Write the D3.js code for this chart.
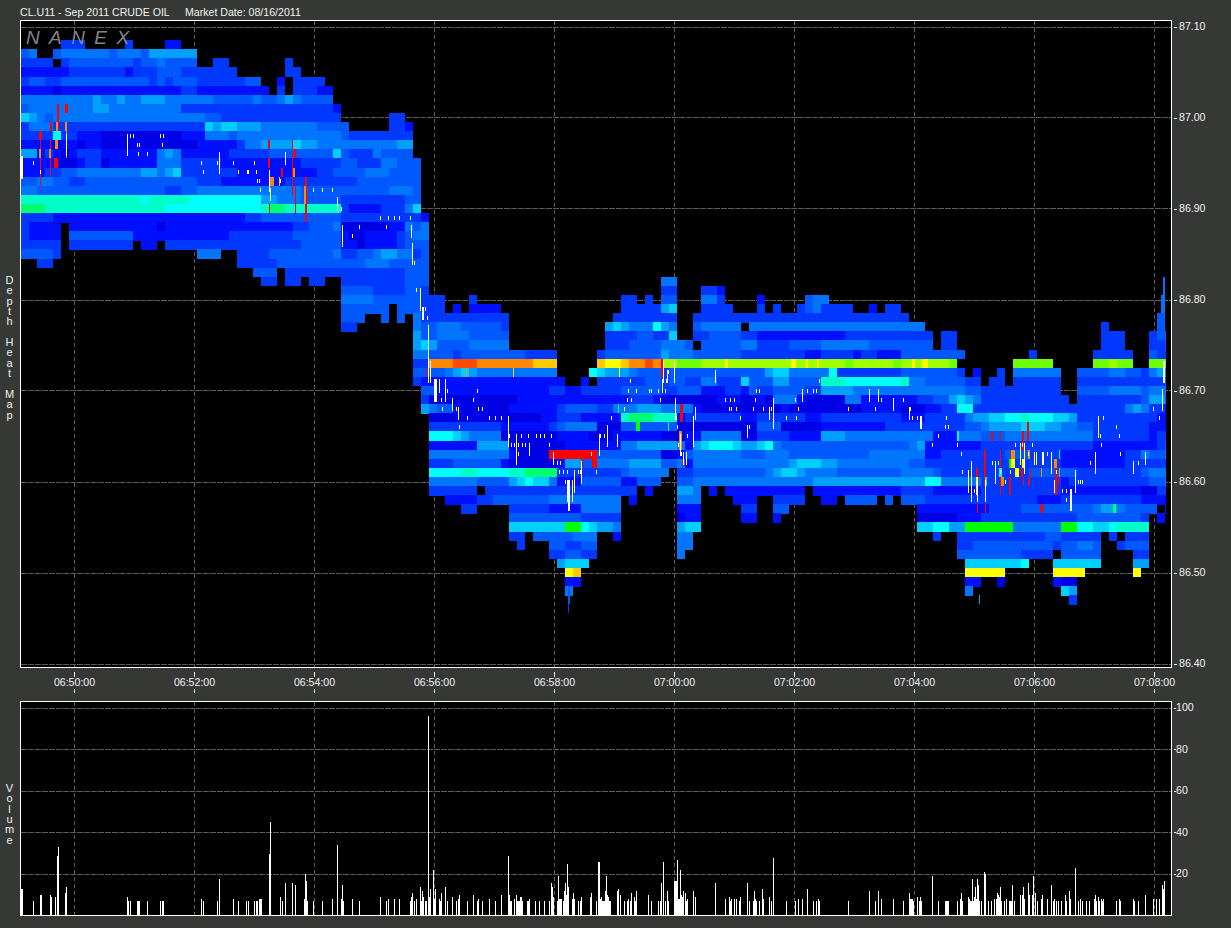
<!DOCTYPE html>
<html><head><meta charset="utf-8">
<style>html,body{margin:0;padding:0;background:#363835;overflow:hidden}svg{display:block}text{font-family:"Liberation Sans",Arial,sans-serif;font-size:10.6px;fill:#f2f2f2}</style>
<script src="https://cdn.jsdelivr.net/npm/d3@7/dist/d3.min.js"></script>
</head><body><svg id="c" width="1231" height="928"></svg>
<script>
// Time is in seconds after 06:48:46. Prices in dollars.
const titleLeft = "CL.U11 - Sep 2011 CRUDE OIL";
const titleRight = "Market Date: 08/16/2011";
const logoText = "NANEX";
const priceTicks = [87.1,87.0,86.9,86.8,86.7,86.6,86.5,86.4];
const timeTicks = [74,194,314,434,554,674,794,914,1034,1154];
const timeLabels = ["06:50:00","06:52:00","06:54:00","06:56:00","06:58:00","07:00:00","07:02:00","07:04:00","07:06:00","07:08:00"];
const volumeTicks = [20,40,60,80,100];
const topPrice = 87.08, priceStep = 0.01, firstBucket = 21, bucketSeconds = 8, lastSecond = 1166;
// Depth intensity per price level (top to bottom), 8 s buckets in groups of ten; "_" = ten empty buckets.
const depthGrid = [
".....333.. ...3....22",
"45..455555 5455546666 66........",
"3333.34444 4444344544 44..33.... ...3......",
"2222223333 3332333444 3333333... ...33.....",
"3443344444 4444443434 4433333344 ..2.3333..",
"2222122222 2222222222 3322222222 2.3.33322.",
"5555555556 5565566655 5555444445 445654444.",
"4555555556 6555555555 3333333333 3333333332",
"7654555555 5555555555 5554433333 3333333333 ......33..",
"3555333333 3333333333 3337677666 5555555444 4.....332.",
"3333833222 1111111111 2225554555 5555555555 433333333.",
"2222122122 1111111111 1122222355 6666766555 555555566.",
"6623212333 2222222565 2222223333 3444444447 433354444.",
"2222111233 1222222555 3333322222 2222233333 4433355444",
"2223344555 5555566567 3333333222 2222222334 4445554444",
"4455443344 4444444444 4433322222 2223333333 3344444444",
"5544444444 4444444433 4455555555 5555544444 4444445554",
"9999999999 9999989999 9888888888 6655544444 3333333344",
"aaa9999999 9999999988 8888888888 9aa9999999 3222233357",
"3333222222 2222222222 2222222233 4444444444 3333333333 2",
"32222.2222 2222222122 2222222222 2222334445 1111112254 5",
"32222.4444 4444222222 2222223333 3333444444 2112222345 5",
"33333.3333 3333.22.33 3333333333 3333344444 2212222344 4",
"44443..... _ ..555..333 3444444445 3344566553 4",
"..33...... _ .......333 3344444444 4445554444 4",
"_ _ .........4 44.3333333 3333333344 4",
"_ _ _ 33.33.33.. 3333333344 4 _ _ 55........",
"_ _ _ _ 4444333344 3 _ _ 33...332..",
"_ _ _ _ 5555444444 333...3... _ .....33.3. 44...553.. ..2.....45 5.........",
"_ _ _ _ 444444.444 333.2.2222 _ .....33333 67...3333. ..3.3..345 3333..2.33",
"_ _ _ _ 444..4.4.5 3333333333 3......... ....333333 33..333333 3333333333 3333333333 3.........",
"_ _ _ _ 33.......5 4455544444 3......... ...6765558 65..455555 .555555555 5555555555 555....... _ .....3.... ..3.",
"_ _ _ _ .........6 4455554444 4......... ...3333443 37..334444 3322222222 2223333333 3333.33... _ .....333.. .334",
"_ _ _ _ .........6 7644445555 5......... ...3334444 5554.44444 5533334444 5555554444 4444.33... _ .....333.. .334",
"_ _ _ _ .........5 5444344444 4443333... ..34444444 6555444444 3333333322 3333233222 44444444.. ......3... ....33333. .433",
"_ _ _ _ .........3 3ggghhhggg ggggfff... ..feefgghg ddcccddddd dddddddddd dddcdddddc ddddddc... ....ccccc. ....ccdcc. .ccc",
"_ _ _ _ .........4 4445676555 5555555... .876665444 3444444444 4446775555 5833333333 44444443.2 ..3.555555 ..44445544 3566",
"_ _ _ _ .........3 2222222222 22222222.. 2.33333344 3443355333 7444664444 9998888888 9554444433 .33.333333 ..33333333 3334",
"_ _ _ _ _ 4422222222 2222223322 3333344444 3344422233 2433444433 6666555555 5555555544 3333333333 ..44445555 4555",
"_ _ _ _ _ 3111111111 1122222222 2222223332 1111111222 1121555211 1115522222 2233446765 3333333333 3.33333333 4664",
"_ _ _ _ _ 6544211111 1222222344 4433555666 5555211111 1111121111 1111122222 1112233883 3333333333 3333333356 5332",
"_ _ _ _ _ .111111111 1111122333 222229aaa9 9923333333 2233333322 3333333333 2223333356 6778898887 7633333333 3322",
"_ _ _ _ _ .333333333 2222223455 5511144444 4411111111 1144411111 2222222233 3333333344 5666677766 5544333333 3222",
"_ _ _ _ _ .888765555 1111111222 2111222222 1112255555 1133332222 6665555555 5555222555 4445555555 5555333333 3233",
"_ _ _ _ _ .222222666 6111111122 2222255666 6652678887 6678544444 4444444444 4562222222 3333333333 3333222222 2234",
"_ _ _ _ _ .555555555 521111iiii ii44444444 1124555555 4445554444 4444445555 5552233333 3334443333 2222222233 5445",
"_ _ _ _ _ .333444444 2111111266 4455556666 4452555555 5555556777 6655555555 5443333333 3333333333 2222222233 3333",
"_ _ _ _ _ .888899888 899aaaa333 3333345555 5.33444444 4445677655 5544444444 5555433333 3333334444 4433333333 4555",
"_ _ _ _ _ .555555444 4678775222 4444422444 ..44555555 5555555556 6666666666 6668855555 3333333333 2333333333 3445",
"_ _ _ _ _ .333333.33 3333333333 3333333.2. ..665.2.22 22222222.2 2222222222 3333222222 3333333333 2222222222 1133",
"_ _ _ _ _ ...2222334 4444445555 55555.2... ..555....2 22..3333.. 22.4444.4. 4443333333 3333333222 3333333333 2222",
"_ _ _ _ _ .....33... .333332222 55555..... ..222..... 33..44.... _ ..22222222 2333344444 4444566544 44.2",
"_ _ _ _ _ _ .444444444 33333..... ..122..... 22..2..... _ ..11111222 3333333333 3344444444 3.2.",
"_ _ _ _ _ _ .7777777bb 87665..... ..677..... _ _ ..778866bb bbbb555555 bb88778999 9...",
"_ _ _ _ _ _ .33.444445 55..2..... ..55...... _ _ ....3..333 3333333344 33333.3.33 3...",
"_ _ _ _ _ _ ..3...4433 44........ ..55...... _ _ .......334 4444444443 44554..344 4...",
"_ _ _ _ _ _ ......3344 33........ ..5....... _ _ .......444 444443333. 44444....3 3...",
"_ _ _ _ _ _ .......677 7......... _ _ _ ........77 777778...7 77777....6 6...",
"_ _ _ _ _ _ ........ef _ _ _ _ ........ee eee......e eee......e",
"_ _ _ _ _ _ ........22 _ _ _ _ ........22 ..1......2 11........",
"_ _ _ _ _ _ ........5. _ _ _ _ ........5. _ 76........",
"_ _ _ _ _ _ _ _ _ _ _ _ _ .3........"
];
// Intensity level -> colour stops
const levelStops = [1,2,3,4,5,6,7,8,9,10,11,12,13,14,15,16,17,18];
const levelColors = ["#0000e4","#0010ff","#0038ff","#0058ff","#0076ff","#00a0ff","#00d0ff","#00ffff","#00ffc8","#00ff70","#00ff00","#70ff00","#a0ff00","#ffff00","#ffc800","#ff8800","#ff4800","#ff0000"];
// Narrow hot streaks: [second, high price, low price, level, width in seconds]
const streaks = [
[58,87.01,86.99,18,2],[66,87.01,87.01,18,3],[51,86.99,86.99,18,2],[40,86.98,86.98,18,3],[40,86.97,86.93,18,1],[50,86.97,86.94,18,1],
[56,86.95,86.95,18,4],[66,86.98,86.96,16,1],[40,86.96,86.96,16,2],[50,86.96,86.96,16,2],[57,86.99,86.99,16,2],[56,86.97,86.97,16,3],[66,86.99,86.99,16,2],
[269,86.97,86.97,18,2],[269,86.95,86.95,18,2],[269,86.90,86.90,18,1],[292,86.97,86.92,18,1],[295,86.96,86.96,18,2],[282,86.94,86.94,18,2],[306,86.93,86.89,18,1.5],[295,86.92,86.90,18,1],
[272,86.93,86.93,16,4],[279,86.93,86.93,15,1],[294,86.94,86.94,16,2],[305,86.92,86.91,16,2],
[428,86.72,86.72,18,2],[466,86.72,86.72,16,1],[513,86.72,86.72,15,1],[619,86.72,86.72,14,1],
[583,86.63,86.62,18,1],[594,86.62,86.62,18,5],[662,86.73,86.72,18,2],[681,86.68,86.67,18,3],[680,86.65,86.64,16,3],[682,86.62,86.62,18,1],
[618,86.68,86.68,10,1],[638,86.66,86.66,11,4],[668,86.66,86.66,9,1],[678,86.73,86.73,12,1],
[726,86.73,86.73,14,3],[793,86.73,86.73,14,5],[807,86.73,86.73,14,2],[818,86.73,86.73,14,2],[925,86.73,86.73,14,6],[913,86.73,86.73,14,3],
[992,86.65,86.65,18,2],[985,86.63,86.60,18,1.5],[977,86.61,86.60,18,2],[977,86.60,86.59,14,2],[977,86.57,86.57,18,1],[985,86.57,86.57,18,1],
[1000,86.63,86.59,18,1],[1000,86.65,86.65,18,1],[1002,86.60,86.60,16,3],[1010,86.60,86.59,18,2],[1010,86.62,86.62,11,2],[1013,86.63,86.63,16,4],[1013,86.62,86.62,14,4],[1017,86.61,86.61,14,4],
[1022,86.61,86.61,18,2],[1023,86.65,86.64,18,2],[1023,86.60,86.60,18,1],[1023,86.62,86.62,14,2],[1028,86.66,86.65,18,1.5],[1029,86.63,86.63,16,2],[1030,86.61,86.61,18,1],[1029,86.60,86.60,18,2],
[1041,86.61,86.61,16,1],[1041,86.57,86.57,18,3],[1055,86.62,86.62,16,3],[1056,86.61,86.59,18,2],[1058,86.60,86.60,18,1],[1059,86.61,86.61,16,1],[1059,86.63,86.63,10,1],
[986,86.60,86.60,10,2],[958,86.65,86.65,9,2],[1000,86.61,86.61,9,3],[1114,86.57,86.57,10,3],
[568,86.47,86.46,3,1],[569,86.48,86.47,4,2],[1164,86.82,86.81,5,2],[1163,86.80,86.79,5,4],[1161,86.78,86.76,4,8],[979,86.47,86.47,6,1]
];
// Long white trades: [second, high price, low price, width]
const whiteLines = [
[21,86.955,86.935,1.5],[127,86.98,86.96,1],[66,86.98,86.96,1],[219,86.96,86.94,1],[285,86.96,86.95,1],[269,86.94,86.92,1],[270,86.92,86.91,1],[337,86.91,86.90,1],[342,86.88,86.86,1],[411,86.88,86.87,1],[412,86.86,86.84,1],[420,86.81,86.79,1],[422,86.79,86.78,2],
[428,86.77,86.71,1],[430,86.73,86.71,1],[434,86.71,86.69,2.5],[439,86.71,86.70,1],[445,86.71,86.69,1],[452,86.69,86.68,1],[458,86.68,86.67,1],[508,86.67,86.64,1],[516,86.65,86.62,1],[529,86.64,86.63,1],[553,86.63,86.62,1],
[567,86.60,86.58,3],[568,86.58,86.57,1.5],[572,86.60,86.58,1],[574,86.61,86.59,1],[581,86.62,86.60,1],[599,86.65,86.63,1],[607,86.66,86.64,1],[617,86.65,86.64,1],[663,86.73,86.71,1],[667,86.72,86.71,1],[662,86.71,86.70,1],[674,86.73,86.71,1],[675,86.69,86.67,1],[680,86.65,86.63,1],[683,86.63,86.62,1],[686,86.63,86.62,1],[693,86.67,86.64,1],[695,86.68,86.67,1],[715,86.72,86.71,1],[747,86.66,86.65,1],[769,86.68,86.67,1],[773,86.69,86.66,1],[802,86.70,86.69,1],[869,86.70,86.69,1],[878,86.70,86.69,1],[893,86.69,86.68,1],[909,86.68,86.67,1],[920,86.67,86.66,1.5],
[968,86.61,86.59,1],[971,86.62,86.58,1],[977,86.60,86.58,1],[985,86.60,86.58,1],[995,86.62,86.60,1],[1020,86.64,86.62,1],[1024,86.64,86.61,1],[1034,86.63,86.62,1],[1036,86.63,86.62,1],[1042,86.63,86.62,2],[1051,86.63,86.61,1],[1054,86.60,86.59,1],[1070,86.59,86.57,2],[1075,86.61,86.59,1],[1095,86.63,86.61,1],[1098,86.67,86.65,1],[1133,86.62,86.61,1],[1145,86.63,86.62,1],[1162,86.70,86.68,1],[1163,86.73,86.71,1.5]
];
// Short white trades: [price, seconds...]
const whiteDots = [
[86.98,130,133,160,163],[86.97,137,139,162],[86.96,138,147],[86.95,33,201,217,233,254],[86.94,40,203,238,247,248,256],[86.93,257,259,280],[86.92,260,313,322,332],[86.90,341],[86.89,380,388,394,399,410],[86.88,359,386],[86.87,352],[86.84,414],[86.81,416],[86.79,425],[86.78,427],
[86.72,668],[86.71,630,666,819],[86.70,447,477,628,636,649,658,651,665,756,759,807,813,816],[86.69,441,473,627,631,660,725,730,734,755,795,881,903],
[86.68,442,456,478,482,624,729,731,736,753,763,771,798,848,875,910,1153],[86.67,467,489,495,501,611,676,740,786,796,912,917,946,1103,1159],[86.66,459,677,749,945,948,1116],
[86.65,509,521,528,536,540,544,551,600,604,687,938,1100,1119],[86.64,511,514,518,522,525,549,678,932,957,1015,1022,1032,1101],[86.63,518,591,681,961,1028,1047,1120],[86.62,557,560,992,998,1090,1138],
[86.61,559,563,567,578,580,596,962,1000,1010,1056],[86.60,565,1005,1078,1080,1082],[86.59,974,1062,1066],[86.58,1066]
];
// Volume bars
const volumeSeconds = [21,22,33,40,41,50,51,55,57,58,65,66,127,128,130,137,138,139,147,160,162,163,201,203,217,219,233,238,246,248,254,256,257,259,260,261,269,270,280,282,285,292,295,304,305,306,307,313,322,332,337,341,342,343,352,359,380,386,388,394,399,410,411,412,414,416,420,421,422,423,425,426,428,429,430,433,434,435,439,440,441,445,447,452,456,458,459,467,473,477,478,482,489,495,501,508,509,510,511,514,516,517,518,519,520,521,522,527,528,529,535,539,544,549,551,552,553,557,558,559,560,561,563,564,565,566,567,568,572,573,574,578,580,581,590,591,596,598,599,600,601,602,603,604,605,606,607,608,609,610,617,618,620,624,627,628,630,631,634,635,636,648,651,658,660,661,663,665,667,668,674,675,676,677,678,679,680,681,682,683,685,686,687,693,695,715,725,729,730,731,734,736,739,740,747,749,753,754,755,756,759,762,763,769,771,773,786,795,798,802,807,813,816,818,819,848,869,875,878,881,893,903,909,910,911,912,913,917,919,920,921,932,938,945,946,947,948,957,960,961,962,968,969,970,971,972,973,974,975,976,977,978,979,981,984,985,988,991,994,996,997,998,999,1000,1001,1004,1006,1009,1010,1011,1012,1014,1020,1022,1023,1024,1028,1029,1032,1033,1035,1037,1041,1042,1047,1051,1053,1054,1056,1058,1061,1065,1066,1069,1070,1075,1078,1080,1082,1086,1089,1094,1095,1096,1098,1099,1101,1102,1103,1116,1119,1120,1133,1134,1138,1145,1153,1156,1159,1162,1163,1164];
const volumeValues = [12.5,12.5,6.7,9.6,9.6,9.6,8.7,8.7,28.4,32.8,10.6,13.5,8.7,6.7,6.7,6.7,6.7,6.7,6.7,6.7,6.7,6.7,7.7,6.7,6.7,17.3,7.7,6.7,6.7,6.7,6.7,6.7,6.7,7.7,7.7,7.7,29.4,44.8,8.7,6.7,15.4,15.4,14.5,7.7,19.8,16.4,6.7,6.7,6.7,7.7,33.7,7.7,14.5,6.7,7.7,6.7,8.7,6.7,7.7,7.7,7.7,6.7,8.7,10.6,6.7,7.7,13.5,6.7,11.6,8.7,6.7,6.7,95.9,8.7,12.5,21.7,7.7,12.5,7.7,6.7,10.4,13.5,6.7,8.7,6.7,7.7,9.6,6.7,9.6,6.7,7.7,6.7,7.7,6.7,9.6,28.4,9.6,6.7,6.7,7.7,9.6,6.7,6.7,6.7,8.7,8.7,6.7,6.7,6.7,7.7,6.7,6.7,6.7,6.7,15.4,13.5,8.7,6.7,18.8,7.7,7.7,7.7,6.7,11.6,15.4,9.6,24.6,13.5,7.7,10.6,7.7,6.7,6.7,8.7,8.7,10.6,6.7,25.5,25.5,7.7,8.7,6.7,6.7,6.7,11.6,18.8,9.6,8.7,6.7,6.7,11.6,12.5,9.6,6.7,6.7,7.7,6.7,10.6,8.7,6.7,11.6,9.6,6.7,6.7,6.7,15.4,25.5,6.7,11.6,6.7,16.4,16.4,16.4,26.5,7.7,7.7,21.7,9.6,8.7,11.6,10.6,6.7,7.7,11.6,8.7,15.4,7.7,8.7,6.7,7.7,7.7,7.7,6.7,8.7,15.4,6.7,6.7,11.6,7.7,6.7,6.7,12.5,7.7,8.7,6.7,27.5,6.7,6.7,7.7,7.7,12.5,6.7,6.7,7.7,6.7,6.7,11.6,6.7,11.6,7.7,7.7,6.7,10.6,7.7,7.7,7.7,6.7,8.7,6.7,8.7,6.7,18.8,6.7,6.7,6.7,6.7,6.7,6.7,7.7,10.6,6.7,8.7,7.7,6.7,6.7,17.3,6.7,8.7,13.5,7.7,17.3,14.5,6.7,6.7,20.7,19.8,6.7,6.7,7.7,7.7,10.6,9.6,8.7,13.5,6.7,6.7,7.7,6.7,6.7,6.7,14.5,6.7,9.6,9.6,13.5,7.7,15.4,9.6,9.6,18.8,10.6,6.7,7.7,9.6,7.7,14.5,6.7,7.7,6.7,6.7,6.7,9.6,6.7,11.6,7.7,22.7,6.7,7.7,6.7,6.7,6.7,7.7,9.6,6.7,8.7,6.7,7.7,6.7,7.7,6.7,7.7,6.7,7.7,6.7,6.7,9.6,7.7,7.7,7.7,14.5,12.5,16.4];

const svg = d3.select("#c");
const L = 20.5, R = 1171.5;
const x = d3.scaleLinear().domain([21,1171]).range([21,1171]);
const y = d3.scaleLinear().domain([86.4,87.1]).range([663.5,26.5]);
const yv = d3.scaleLinear().domain([0,100]).range([915,707.5]);
const color = d3.scaleLinear().domain(levelStops).range(levelColors).interpolate(d3.interpolateRgb);
const rowH = Math.abs(y(0)-y(priceStep));

const panels = [{t:20.5,b:667.5},{t:701.5,b:915.5}];
panels.forEach(p=>svg.append("rect").attr("x",L).attr("y",p.t).attr("width",R-L).attr("height",p.b-p.t).attr("fill","#000"));

// grid
const grid = svg.append("g").attr("stroke","#5c5c5c").attr("shape-rendering","crispEdges").attr("fill","none");
panels.forEach(p=>grid.selectAll(null).data(timeTicks).join("line").attr("x1",x).attr("x2",x).attr("y1",p.t).attr("y2",p.b).attr("stroke-dasharray","4 3"));
grid.selectAll(null).data(priceTicks).join("line").attr("x1",L).attr("x2",R).attr("y1",d=>Math.round(y(d))+.5).attr("y2",d=>Math.round(y(d))+.5).attr("stroke-dasharray","6 1");
grid.selectAll(null).data(volumeTicks).join("line").attr("x1",L).attr("x2",R).attr("y1",d=>Math.round(yv(d))+.5).attr("y2",d=>Math.round(yv(d))+.5).attr("stroke-dasharray","6 1");

// heat cells
const cells = [];
depthGrid.forEach((row,r)=>{
  const s = row.split(" ").map(t=>t==="_"?"..........":t.padEnd(10,".")).join("");
  const price = topPrice - r*priceStep;
  for(let i=0;i<s.length;i++){
    if(s[i]===".") continue;
    const t = firstBucket+i*bucketSeconds;
    if(t>=lastSecond) continue;
    cells.push({price, t, level:parseInt(s[i],36)});
  }
});
const heat = svg.append("g").attr("shape-rendering","crispEdges");
heat.selectAll("rect").data(cells).join("rect")
  .attr("x",d=>x(d.t))
  .attr("width",d=>x(Math.min(d.t+bucketSeconds,lastSecond))-x(d.t))
  .attr("y",d=>y(d.price)-rowH/2)
  .attr("height",rowH+.4)
  .attr("fill",d=>color(d.level));
heat.selectAll(null).data(streaks).join("rect")
  .attr("x",d=>x(d[0]-d[4]/2)).attr("width",d=>x(d[0]+d[4]/2)-x(d[0]-d[4]/2))
  .attr("y",d=>y(d[1])-rowH/2).attr("height",d=>y(d[2])-y(d[1])+rowH)
  .attr("fill",d=>color(d[3]));

// white trades
const wg = svg.append("g").attr("fill","#fff").attr("shape-rendering","crispEdges");
wg.selectAll(null).data(whiteLines).join("rect")
  .attr("x",d=>x(d[0])).attr("width",d=>d[3])
  .attr("y",d=>y(d[1])-2).attr("height",d=>y(d[2])-y(d[1])+4);
const dots = whiteDots.flatMap(d=>d.slice(1).map(t=>({p:d[0],t})));
wg.selectAll(null).data(dots).join("rect")
  .attr("x",d=>x(d.t)).attr("width",1)
  .attr("y",d=>y(d.p)-2).attr("height",4);

// volume
svg.append("g").attr("fill","#fff").attr("shape-rendering","crispEdges")
  .selectAll("rect").data(volumeSeconds).join("rect")
  .attr("x",d=>x(d)).attr("width",1)
  .attr("y",(d,i)=>yv(volumeValues[i])).attr("height",(d,i)=>yv(0)-yv(volumeValues[i]));

// logo
svg.append("text").attr("x",26).attr("y",44).text(logoText)
  .style("font-size","19px").style("font-style","italic").style("letter-spacing","9.4px").style("fill","#85858f");

// borders
panels.forEach(p=>svg.append("rect").attr("x",L).attr("y",p.t).attr("width",R-L).attr("height",p.b-p.t).attr("fill","none").attr("stroke","#fff").attr("stroke-width",1).attr("shape-rendering","crispEdges"));

// axes
const axR = svg.append("g").attr("transform","translate(1174,0)").call(d3.axisRight(y).tickValues(priceTicks).tickSize(3).tickPadding(2).tickFormat(d3.format(".2f")));
const axV = svg.append("g").attr("transform","translate(1174,0)").call(d3.axisRight(yv).tickValues(volumeTicks).tickSize(2).tickPadding(0));
const axX = svg.append("g").attr("transform","translate(0,672)").call(d3.axisBottom(x).tickValues(timeTicks).tickSize(5).tickPadding(0).tickFormat((d,i)=>timeLabels[i]));
[axR,axV,axX].forEach(a=>{a.select(".domain").remove();a.selectAll("line").attr("stroke","#f2f2f2").attr("shape-rendering","crispEdges");a.selectAll("text").attr("fill","#f2f2f2").style("font-family",'"Liberation Sans",Arial,sans-serif').style("font-size","10.6px");});
axX.selectAll(".tick text").attr("y",6);
axX.selectAll(".tick").append("line").attr("y1",17).attr("y2",21).attr("stroke","#f2f2f2").attr("shape-rendering","crispEdges");

// titles
svg.append("text").attr("x",20).attr("y",16).text(titleLeft);
svg.append("text").attr("x",185).attr("y",16).text(titleRight);
function stacked(str,yStart){svg.append("text").attr("x",9.5).attr("y",yStart).text(str)
  .style("writing-mode","vertical-rl").style("text-orientation","upright").style("font-size","11px").style("letter-spacing","-1.65px");}
stacked("Depth Heat Map",274);
stacked("Volume",782);
</script></body></html>
